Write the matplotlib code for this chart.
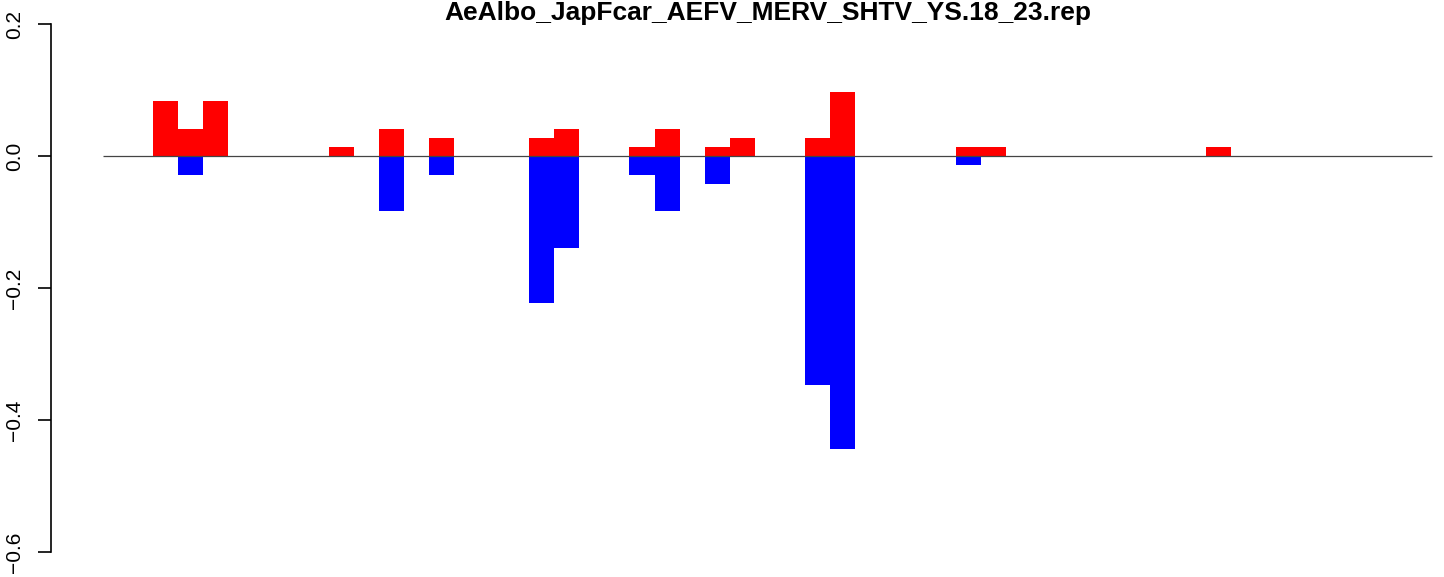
import matplotlib
matplotlib.use("Agg")
import matplotlib.pyplot as plt
import numpy as np

title = "AeAlbo_JapFcar_AEFV_MERV_SHTV_YS.18_23.rep"
n_bars = 53

# bar index -> value (all other bars are zero)
red_idx = [2, 3, 4, 9, 11, 13, 17, 18, 21, 22, 24, 25, 28, 29, 34, 35, 44]
red_val = [0.083, 0.042, 0.083, 0.014, 0.042, 0.028, 0.028, 0.042, 0.014,
           0.042, 0.014, 0.028, 0.028, 0.097, 0.014, 0.014, 0.014]
blue_idx = [3, 11, 13, 17, 18, 21, 22, 24, 28, 29, 34]
blue_val = [-0.028, -0.083, -0.028, -0.222, -0.139, -0.028, -0.083,
            -0.042, -0.347, -0.444, -0.014]

yticks = [-0.6, -0.4, -0.2, 0.0, 0.2]

plt.rcParams['font.family'] = ['Liberation Sans', 'DejaVu Sans']

W, H = 1444, 577
fig = plt.figure(figsize=(W / 100, H / 100), dpi=100)
ax = fig.add_axes([51 / W, (H - 552) / H, (W - 51) / W, (552 - 24.3) / H])

red = np.zeros(n_bars)
red[red_idx] = red_val
blue = np.zeros(n_bars)
blue[blue_idx] = blue_val
x = np.arange(n_bars)

ax.bar(x, red, width=1.0, align='edge', color='#ff0000', linewidth=0, clip_on=False)
ax.bar(x, blue, width=1.0, align='edge', color='#0000ff', linewidth=0, clip_on=False)
ax.hlines(0, 0, n_bars, color='#444444', linewidth=0.9)

bw = 25.08
ax.set_xlim(-(102.8 - 51) / bw, (W - 102.8) / bw)
ax.set_ylim(-0.6, 0.2)

for s in ['top', 'right', 'bottom']:
    ax.spines[s].set_visible(False)
ax.spines['left'].set_linewidth(1.2)
ax.set_xticks([])
ax.set_yticks(yticks)
ax.set_yticklabels([f"{v:.1f}".replace("-", "\u2212") for v in yticks],
                   rotation=90, va='center', fontsize=15)
ax.tick_params(axis='y', length=9.4, width=1.2, pad=10)

fig.text(768 / W, 1 - 20 / H, title, ha='center', va='baseline',
         fontsize=19, fontweight='bold')

fig.savefig("out.png", dpi=100)
